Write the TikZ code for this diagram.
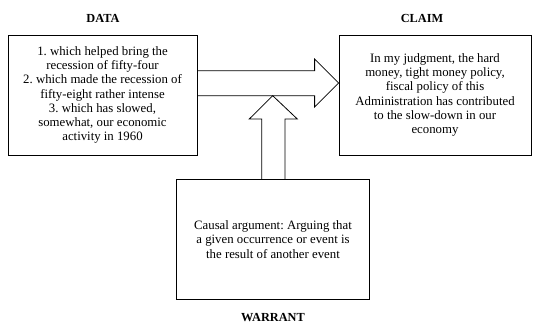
\documentclass[tikz,border=0pt]{standalone}
\usepackage{fontspec}
\setmainfont{Liberation Serif}
\usetikzlibrary{calc}
\frenchspacing
\begin{document}
\begin{tikzpicture}[x=1pt,y=-1pt,
  box/.style={draw,line width=0.8pt,inner sep=0pt,align=center,font=\fontsize{12.8}{14.2}\selectfont},
  lbl/.style={font=\fontsize{12.3}{14}\selectfont\bfseries},
  blockarrow/.style={draw,line width=0.8pt,line join=miter}]
\useasboundingbox (0,0) rectangle (533,325);
\node[box,minimum width=189pt,minimum height=120pt] (data) at (102.5,95) {1. which helped bring the\\recession of fifty-four\\2. which made the recession of\\fifty-eight rather intense\\3. which has slowed,\\somewhat, our economic\\activity in 1960};
\node[box,minimum width=192pt,minimum height=120pt] (claim) at (435,95) {In my judgment, the hard\\money, tight money policy,\\fiscal policy of this\\Administration has contributed\\to the slow-down in our\\economy};
\node[box,minimum width=193pt,minimum height=120pt] (warrant) at (273,239.5) {Causal argument: Arguing that\\a given occurrence or event is\\the result of another event};
\node[lbl] (datal) at (103,18) {DATA};
\node[lbl] (claiml) at (422,18) {CLAIM};
\node[lbl] (warrantl) at (273,318) {WARRANT};
% horizontal block arrow from data to claim
\coordinate (tip) at (claim.west |- 0,83);
\draw[blockarrow] (data.east |- 0,70.7) -- ($(tip)+(-24,-12.3)$) -- ($(tip)+(-24,-24)$) -- (tip)
  -- ($(tip)+(-24,24)$) -- ($(tip)+(-24,12.7)$) -- (data.east |- 0,95.7);
% vertical block arrow from warrant up
\coordinate (utip) at (272.7,95.7);
\draw[blockarrow] (warrant.north -| 261.7,0) -- (261.7,119) -- (249.3,119) -- (utip)
  -- (297.3,119) -- (285,119) -- (warrant.north -| 285,0);
\end{tikzpicture}
\end{document}
